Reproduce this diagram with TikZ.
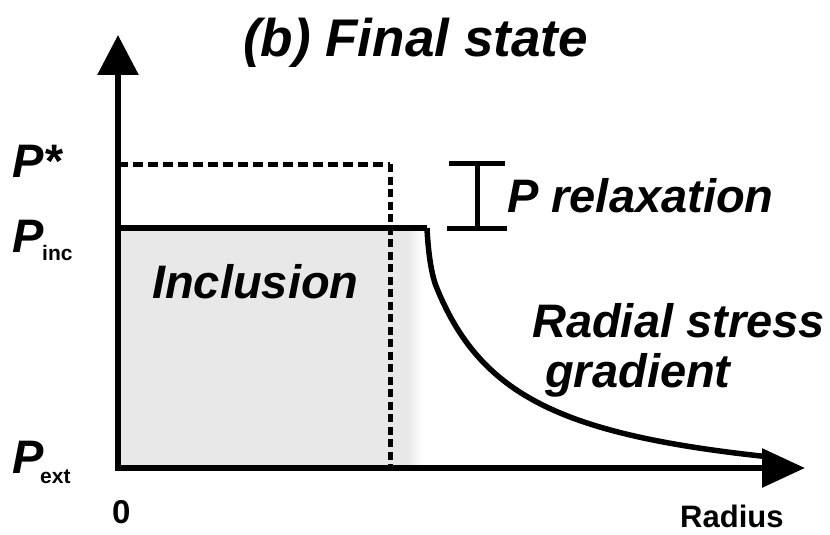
\documentclass[tikz,border=0pt]{standalone}
\usepackage{fontspec}
\setmainfont{Liberation Sans}
\usetikzlibrary{arrows.meta}
\begin{document}
\begin{tikzpicture}[x=1pt,y=-1pt,
  lbl/.style={inner sep=0pt,anchor=base west,font=\bfseries\itshape\fontsize{47}{47}\selectfont},
  sublbl/.style={inner sep=0pt,anchor=base west,font=\bfseries\fontsize{21}{21}\selectfont},
  axis/.style={line width=6pt},
  solidline/.style={line width=6pt},
  dashline/.style={line width=5pt,dash pattern=on 10pt off 5pt},
  vdashline/.style={line width=5pt,dash pattern=on 8pt off 4.5pt},
  bracket/.style={line width=5pt}]
\useasboundingbox (0,0) rectangle (830,535);
% gray inclusion fill
\fill[gray!18] (118,228) rectangle (408,468);
\shade[left color=gray!18,right color=white] (407.5,228) rectangle (422,468);
% coordinates
\coordinate (O) at (118,468);
\coordinate (Ytip) at (118,35);
\coordinate (Xstart) at (115,468);
\coordinate (Xtip) at (805,468);
\coordinate (Ps0) at (118,164);
\coordinate (Ps1) at (390,164);
\coordinate (Ps2) at (390,468);
\coordinate (Pi0) at (118,228);
\coordinate (Pi1) at (427,228);
\coordinate (Cjoin) at (436,286);
\coordinate (Bt) at (477,163);
\coordinate (Bb) at (477,228);
\coordinate (BtL) at (449,163);
\coordinate (BtR) at (505,163);
\coordinate (BbL) at (447,228);
\coordinate (BbR) at (507,228);
% dashed P*
\draw[dashline] (Ps0) -- (Ps1);
\draw[vdashline] (Ps1) -- (Ps2);
% P_inc and curve
\draw[solidline] (Pi0) -- (Pi1);
\draw[line width=5.5pt,line join=round] (Pi1) .. controls (428,250) and (431,273) .. (Cjoin)
  -- plot[domain=436:767,samples=90] (\x,{501-184.87/((\x-350)/100)});
% axes
\draw[axis,-{Triangle[length=40pt,width=40pt]}] (O) -- (Ytip);
\draw[axis,-{Triangle[length=43pt,width=38pt]}] (Xstart) -- (Xtip);
% bracket
\draw[bracket] (Bt) -- (Bb);
\draw[bracket] (BtL) -- (BtR);
\draw[bracket] (BbL) -- (BbR);
% labels
\node[lbl,font=\bfseries\itshape\fontsize{53}{53}\selectfont] (title) at (243,57) {(b) Final state};
\node[lbl] (pstar) at (12,177) {P*};
\node[lbl] (pinc) at (12,252) {P};
\node[sublbl] (pincsub) at (42,260) {inc};
\node[lbl] (pext) at (12,473) {P};
\node[sublbl] (pextsub) at (40,483) {ext};
\node[inner sep=0pt,anchor=base west,font=\bfseries\fontsize{33}{33}\selectfont] (zero) at (112,523) {0};
\node[inner sep=0pt,anchor=base west,font=\bfseries\fontsize{31}{31}\selectfont] (radius) at (680,527) {Radius};
\node[lbl] (incl) at (152,298) {Inclusion};
\node[lbl] (prel) at (507,212) {P relaxation};
\node[lbl] (radial) at (532,337) {Radial stress};
\node[lbl] (grad) at (545,387) {gradient};
\end{tikzpicture}
\end{document}
